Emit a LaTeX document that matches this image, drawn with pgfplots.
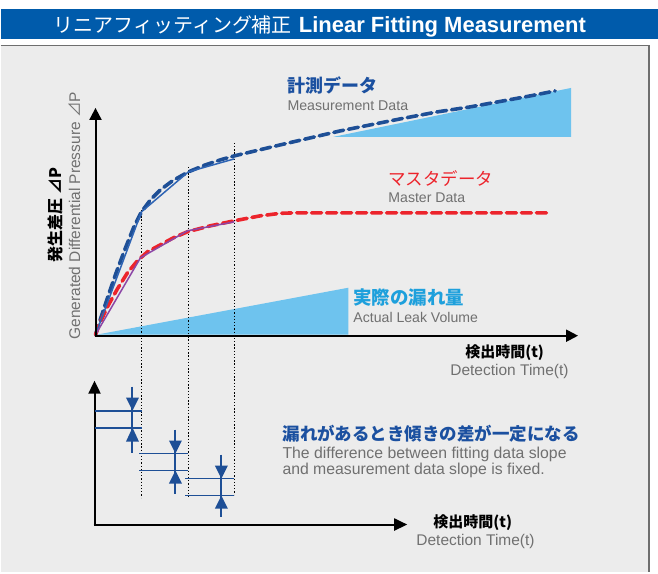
\documentclass[border=0pt]{standalone}
\usepackage{fontspec}
\setmainfont{Liberation Sans}
\newfontfamily\jp{Noto Sans CJK JP}
\usepackage{pgfplots}
\pgfplotsset{compat=1.18}
\usetikzlibrary{arrows.meta}

\definecolor{barblue}{RGB}{0,91,171}
\definecolor{panel}{RGB}{236,236,236}
\definecolor{frame}{RGB}{110,110,110}
\definecolor{meas}{RGB}{30,79,150}
\definecolor{fitblue}{RGB}{46,100,180}
\definecolor{master}{RGB}{236,36,44}
\definecolor{fitpurple}{RGB}{140,70,166}
\definecolor{leak}{RGB}{110,195,238}
\definecolor{leaktxt}{RGB}{30,160,220}
\definecolor{txtgray}{RGB}{112,112,112}
\definecolor{headblue}{RGB}{27,80,160}

\begin{document}
\begin{tikzpicture}
\begin{axis}[
  scale only axis, width=658pt, height=573pt,
  xmin=0, xmax=658, ymin=0, ymax=573, y dir=reverse,
  hide axis, clip=false,
]

% background, title bar, panel
\addplot[fill=white, draw=none] coordinates {(0,0) (658,0) (658,573) (0,573)};
\addplot[fill=barblue, draw=none] coordinates {(0,9) (658,9) (658,39) (0,39)};
\addplot[fill=panel, draw=none] coordinates {(0,45.5) (649,45.5) (649,573) (0,573)};
\addplot[frame, line width=1.2pt] coordinates {(0,45.5) (649,45.5) (649,573)};

% leak volume wedges
\addplot[fill=leak, draw=none] coordinates {(96,335) (348,288) (348,335)};
\addplot[fill=leak, draw=none] coordinates {(333,137) (571,88) (571,137)};

% dotted guides
\addplot[black, line width=1.3pt, dash pattern=on 1.3pt off 1.9pt] coordinates {(141,210) (141,498)};
\addplot[black, line width=1.3pt, dash pattern=on 1.3pt off 1.9pt] coordinates {(188,167) (188,498)};
\addplot[black, line width=1.3pt, dash pattern=on 1.3pt off 1.9pt] coordinates {(234,143) (234,495)};

% measurement data
\addplot[meas, line width=3.6pt, dash pattern=on 10pt off 5pt, line cap=round] coordinates {
  (95,335) (101,316) (108,295) (116,272) (125,248) (133,228) (141,212)
  (150,200) (160,190) (172,181) (188,172) (205,165) (220,160) (234,156)
  (255,151) (280,145) (310,138) (340,131) (370,125) (400,119) (437,112)
  (470,107) (503,101) (530,96) (555,91)
};
% master data
\addplot[master, line width=3.6pt, dash pattern=on 10pt off 5pt, line cap=round] coordinates {
  (95,335) (99,324) (107,307) (117,289) (127,273) (137,261) (147,252)
  (160,245) (173,238) (187,232) (210,226) (234,221) (260,216) (280,213.5)
  (295,213) (548,213)
};
% fitting segments
\addplot[fitblue, line width=1.5pt] coordinates {(95,335) (141,212) (188,172) (234,159)};
\addplot[fitpurple, line width=1.5pt] coordinates {(95,335) (140,258) (187,231) (234,222)};

% upper axes
\addplot[black, line width=2pt, -{Triangle[length=12pt,width=12pt]}] coordinates {(95,336) (95,108)};
\addplot[black, line width=2pt, -{Triangle[length=12pt,width=12pt]}] coordinates {(94,336) (578,336)};

% lower axes
\addplot[black, line width=2pt, -{Triangle[length=13pt,width=12pt]}] coordinates {(94,525) (94,381)};
\addplot[black, line width=2pt, -{Triangle[length=13pt,width=12pt]}] coordinates {(93,525) (407,525)};

% slope difference bars
\addplot[meas, line width=1.8pt] coordinates {(94,411) (142,411)};
\addplot[meas, line width=1.8pt] coordinates {(94,428) (142,428)};
\addplot[meas, line width=1.8pt] coordinates {(139,454) (188,454)};
\addplot[meas, line width=1.8pt] coordinates {(139,471) (188,471)};
\addplot[meas, line width=1.8pt] coordinates {(185,479) (234,479)};
\addplot[meas, line width=1.8pt] coordinates {(185,496) (234,496)};

\addplot[meas, line width=2pt] coordinates {(132,387) (132,453)};
\addplot[fill=meas, draw=none] coordinates {(125.5,398) (138.5,398) (132,411)};
\addplot[fill=meas, draw=none] coordinates {(125.5,442) (138.5,442) (132,428)};
\addplot[meas, line width=2pt] coordinates {(175,430) (175,494)};
\addplot[fill=meas, draw=none] coordinates {(168.5,441) (181.5,441) (175,454)};
\addplot[fill=meas, draw=none] coordinates {(168.5,484) (181.5,484) (175,471)};
\addplot[meas, line width=2pt] coordinates {(221,455) (221,517)};
\addplot[fill=meas, draw=none] coordinates {(214.5,466) (227.5,466) (221,479)};
\addplot[fill=meas, draw=none] coordinates {(214.5,509) (227.5,509) (221,496)};

% texts
\node[anchor=base west, white, inner sep=0pt] at (axis cs:53,33)
  {{\fontsize{20}{22}\selectfont\jp リニアフィッティング補正}\hspace{7pt}{\fontsize{22}{24}\selectfont\bfseries Linear Fitting Measurement}};

\node[anchor=base west, headblue, inner sep=0pt] at (axis cs:287,93)
  {\fontsize{18}{20}\selectfont\jp\bfseries 計測データ};
\node[anchor=base west, txtgray, inner sep=0pt] at (axis cs:287,111)
  {\fontsize{14.2}{16}\selectfont Measurement Data};

\node[anchor=base west, master, inner sep=0pt] at (axis cs:388,186)
  {\fontsize{17.5}{20}\selectfont\jp マスタデータ};
\node[anchor=base west, txtgray, inner sep=0pt] at (axis cs:388,203)
  {\fontsize{14.1}{16}\selectfont Master Data};

\node[anchor=base west, leaktxt, inner sep=0pt] at (axis cs:353,305)
  {\fontsize{18.5}{20}\selectfont\jp\bfseries 実際の漏れ量};
\node[anchor=base west, txtgray, inner sep=0pt] at (axis cs:353,323)
  {\fontsize{14.1}{16}\selectfont Actual Leak Volume};

\node[anchor=base west, black, inner sep=0pt] at (axis cs:465,358)
  {\fontsize{15}{17}\selectfont\jp\bfseries 検出時間(t)};
\node[anchor=base west, txtgray, inner sep=0pt] at (axis cs:450,376)
  {\fontsize{15.5}{17}\selectfont Detection Time(t)};

\node[anchor=base west, black, inner sep=0pt] at (axis cs:433,528)
  {\fontsize{15}{17}\selectfont\jp\bfseries 検出時間(t)};
\node[anchor=base west, txtgray, inner sep=0pt] at (axis cs:416,546)
  {\fontsize{15.5}{17}\selectfont Detection Time(t)};

\node[anchor=base west, headblue, inner sep=0pt] at (axis cs:282,441)
  {\fontsize{17.5}{20}\selectfont\jp\bfseries 漏れがあるとき傾きの差が一定になる};
\node[anchor=base west, txtgray, inner sep=0pt] at (axis cs:282,459)
  {\fontsize{15.8}{17}\selectfont The difference between fitting data slope};
\node[anchor=base west, txtgray, inner sep=0pt] at (axis cs:282,475)
  {\fontsize{15.8}{17}\selectfont and measurement data slope is fixed.};

\node[rotate=90, black, inner sep=0pt] at (axis cs:55,215)
  {\fontsize{16}{18}\selectfont\jp\bfseries 発生差圧 ⊿P};
\node[rotate=90, txtgray, inner sep=0pt] at (axis cs:73.5,216)
  {\fontsize{15.5}{17}\selectfont Generated Differential Pressure {\jp ⊿}P};

\end{axis}
\end{tikzpicture}
\end{document}
